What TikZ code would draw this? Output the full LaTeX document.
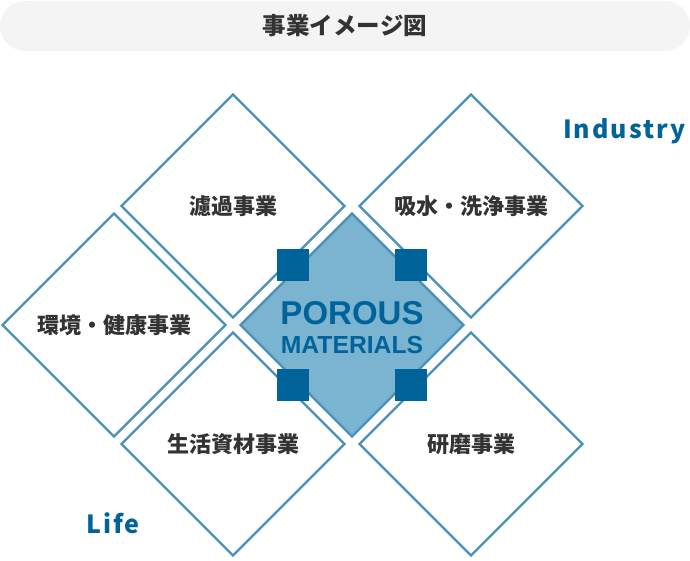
\documentclass[tikz,border=0pt]{standalone}
\usepackage{fontspec}
\usetikzlibrary{positioning,shapes.geometric}
\newfontfamily\jpfont{Noto Sans CJK JP}
\newfontfamily\enfont[LetterSpace=8]{Noto Sans CJK JP}
\newfontfamily\matfont{Liberation Sans}
\definecolor{lineblue}{HTML}{4A90B8}
\definecolor{coreblue}{HTML}{7BB4D0}
\definecolor{deepblue}{HTML}{00649A}
\definecolor{textgray}{HTML}{333333}
\definecolor{titlegray}{HTML}{F4F4F4}
\tikzset{
map/.style={x=1pt,y=1pt,node distance=119pt and 119pt,on grid},
field/.style={diamond,draw=lineblue,line width=2.4pt,aspect=1,
minimum width=224pt,minimum height=224pt,inner sep=0pt,
text=textgray,font=\jpfont\bfseries\fontsize{22}{22}\selectfont},
core/.style={field,fill=coreblue},
corner/.style={fill=deepblue,minimum size=32pt,inner sep=0pt},
axis/.style={inner sep=0pt,anchor=base west,text=deepblue,
font=\enfont\bfseries\fontsize{25}{25}\selectfont},
material/.style={inner sep=0pt,anchor=base,text=deepblue},
}
\begin{document}
\begin{tikzpicture}[map]
\useasboundingbox (0,0) rectangle (690,560);
\node[fill=titlegray,rounded corners=25pt,minimum width=690pt,minimum height=50pt,
  text=textgray,font=\jpfont\bfseries\fontsize{23.5}{24}\selectfont] (title) at (345,534) {事業イメージ図};

\node[core] (mat) at (352,235) {};
\node[field,above left=of mat] (filter) {濾過事業};
\node[field,above right=of mat] (water) {吸水・洗浄事業};
\node[field,below left=of mat] (goods) {生活資材事業};
\node[field,below right=of mat] (polish) {研磨事業};
\node[field,left=238pt of mat] (health) {環境・健康事業};

\foreach \dx/\dy [count=\i] in {-59/60,59/60,-59/-60,59/-60}
  \node[corner] (sq\i) at ([shift={(\dx,\dy)}]mat.center) {};

\node[material,font=\matfont\bfseries\fontsize{33}{33}\selectfont] (porous)
  at ([yshift=1pt]mat.center) {POROUS};
\node[material,font=\matfont\bfseries\fontsize{24.7}{25}\selectfont] (materials)
  at ([yshift=-28pt]mat.center) {MATERIALS};

\node[axis] (industry) at (563,421) {Industry};
\node[axis] (lifeside) at (86,27) {Life};
\end{tikzpicture}
\end{document}
